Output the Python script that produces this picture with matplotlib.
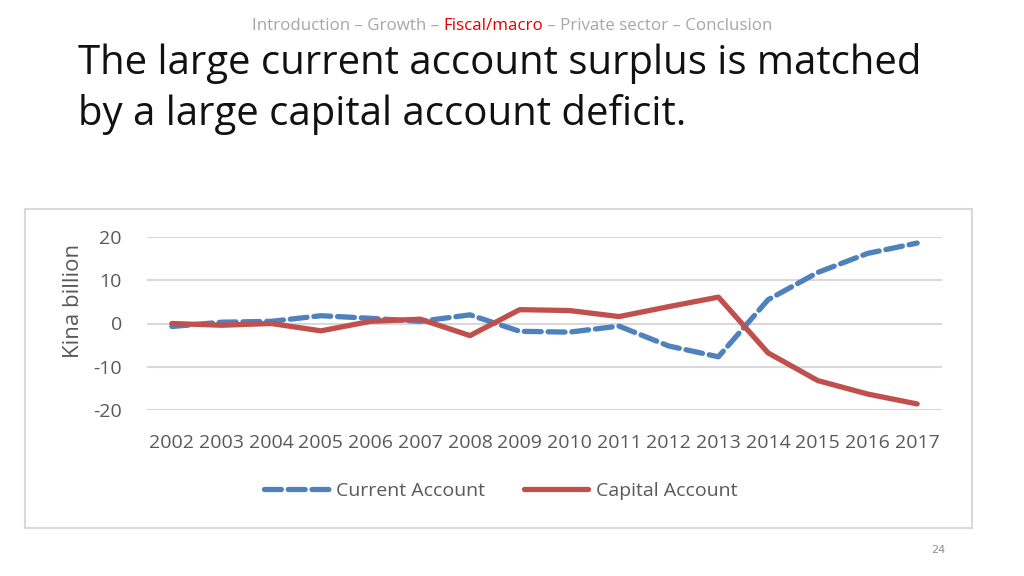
import matplotlib.pyplot as plt
import matplotlib.patches as patches

# --- data (Kina billion)
years = [2002, 2003, 2004, 2005, 2006, 2007, 2008, 2009,
         2010, 2011, 2012, 2013, 2014, 2015, 2016, 2017]
current_account = [-0.7, 0.3, 0.5, 1.8, 1.2, 0.5, 2.0, -1.8,
                   -2.0, -0.6, -5.2, -7.7, 5.5, 11.8, 16.2, 18.6]
capital_account = [0.0, -0.4, 0.0, -1.7, 0.5, 1.0, -2.8, 3.2,
                   3.0, 1.6, 3.9, 6.1, -6.8, -13.2, -16.3, -18.6]
y_ticks = [-20, -10, 0, 10, 20]

header_parts = [("Introduction \u2013 Growth \u2013 ", "#a6a6a6"),
                ("Fiscal/macro", "#e00000"),
                (" \u2013 Private sector \u2013 Conclusion", "#a6a6a6")]
title_lines = ["The large current account surplus is matched",
               "by a large capital account deficit."]

font = 'Open Sans'
blue = "#4f81bd"
red = "#c0504d"
grey_text = "#595959"

fig = plt.figure(figsize=(10.24, 5.76), dpi=100)

# --- header breadcrumb, each piece anchored to the end of the previous one
anchor = fig.text(252 / 1024, 1 - 30 / 576, header_parts[0][0], color=header_parts[0][1],
                  fontsize=12.2, family=font, va='baseline')
for txt, col in header_parts[1:]:
    anchor = fig.add_artist(plt.Annotation(txt, xy=(1, 0), xycoords=anchor,
                                           va='bottom', ha='left',
                                           color=col, fontsize=12.2, family=font))

# --- title (two lines placed separately)
fig.text(78 / 1024, 1 - 74 / 576, title_lines[0], fontsize=28.9, family=font,
         color="#111111", va='baseline')
fig.text(78 / 1024, 1 - 125 / 576, title_lines[1], fontsize=28.9, family=font,
         color="#111111", va='baseline')

# --- chart frame
fig.add_artist(patches.Rectangle((25 / 1024, 1 - 528 / 576), 947 / 1024, 319 / 576,
                                 transform=fig.transFigure, fill=False,
                                 edgecolor="#d9d9d9", linewidth=1.5))

ax = fig.add_axes([147 / 1024, 1 - 410 / 576, 795 / 1024, 173 / 576])
ax.plot(years, current_account, color=blue, linewidth=3.8, linestyle=(0, (3.2, 1.3)),
        dash_capstyle='round', label="Current Account")
ax.plot(years, capital_account, color=red, linewidth=3.8, label="Capital Account",
        solid_capstyle='round')

ax.set_xlim(2001.5, 2017.5)
ax.set_ylim(-20, 20)
ax.set_xticks(years)
ax.set_xticklabels([str(y) for y in years], family=font, fontsize=14, color=grey_text)
ax.set_yticks(y_ticks)
ax.set_yticklabels([str(v) for v in y_ticks], family=font, fontsize=14, color=grey_text)
ax.tick_params(axis='both', length=0)
ax.tick_params(axis='x', pad=17)
ax.tick_params(axis='y', pad=18)
for s in ax.spines.values():
    s.set_visible(False)
ax.grid(axis='y', color="#d9d9d9", linewidth=1.5)
ax.set_axisbelow(True)
ax.set_ylabel("Kina billion", fontsize=16, family=font, color=grey_text)
ax.yaxis.set_label_coords(-0.079, 0.63)

leg = fig.legend(loc='center', bbox_to_anchor=(501 / 1024, 1 - 491 / 576), ncol=2,
                 frameon=False, prop={'family': font, 'size': 14}, handlelength=3.3,
                 columnspacing=2.0, handletextpad=0.4)
for t in leg.get_texts():
    t.set_color(grey_text)

# --- page number
fig.text(938 / 1024, 1 - 553 / 576, "24", fontsize=8, color="#8c8c8c", ha='center')

fig.savefig("out.png", dpi=100)
